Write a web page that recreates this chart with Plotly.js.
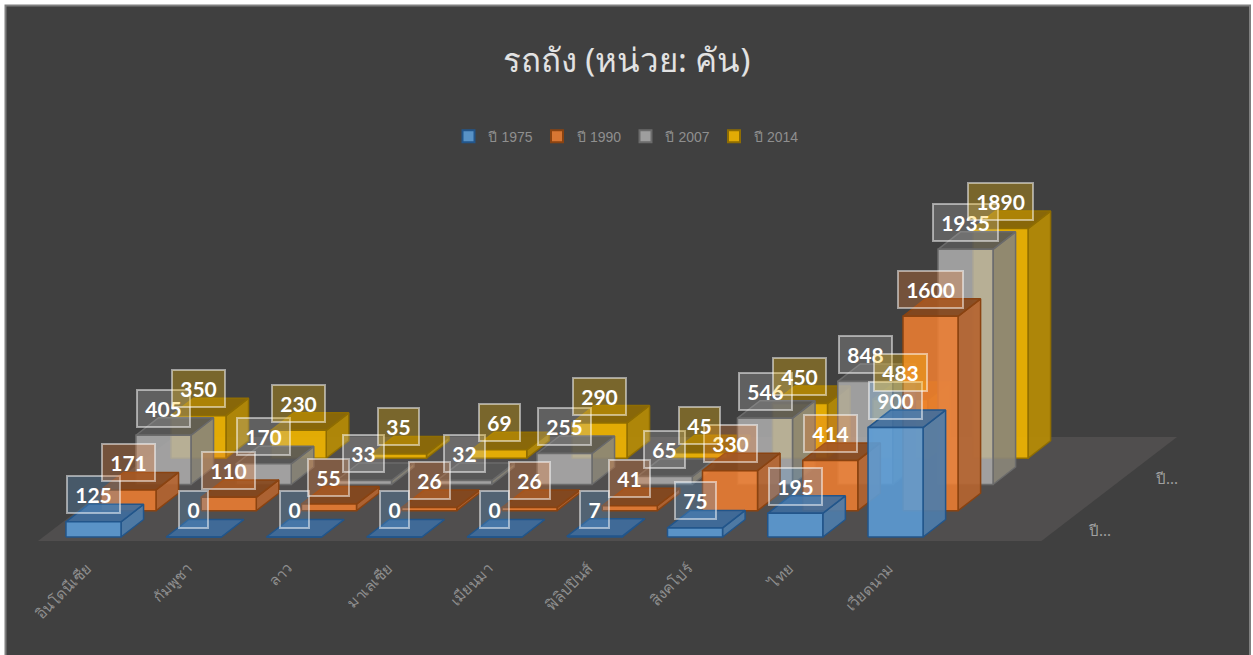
<!DOCTYPE html>
<html><head><meta charset="utf-8">
<script src="https://cdn.plot.ly/plotly-3.0.1.min.js"></script>
<style>html,body{margin:0;padding:0;background:#fff}#chart{position:absolute;left:0;top:0;width:1253px;height:655px}</style>
</head><body><div id="chart"></div>
<script>
const categories = ['อินโดนีเซีย','กัมพูชา','ลาว','มาเลเซีย','เมียนมา','ฟิลิปปินส์','สิงคโปร์','ไทย','เวียดนาม'];
const years = ['ปี 1975','ปี 1990','ปี 2007','ปี 2014'];
const v1975 = [125,0,0,0,0,7,75,195,900];
const v1990 = [171,110,55,26,26,41,330,414,1600];
const v2007 = [405,170,33,32,255,65,546,848,1935];
const v2014 = [350,230,35,69,290,45,450,483,1890];
const seriesValues = [v1975,v1990,v2007,v2014];

const front = ['rgba(91,155,213,.9)','rgba(237,125,49,.88)','rgba(175,175,175,.85)','rgba(240,180,0,.92)'];
const side  = ['rgba(78,125,170,.92)','rgba(180,100,48,.92)','rgba(138,134,120,.92)','rgba(180,138,6,.95)'];
const top_  = ['rgba(62,110,160,.9)','rgba(135,72,28,.92)','rgba(88,88,88,.92)','rgba(140,105,6,.95)'];
const edge  = ['#22558a','#8a4311','#6b6b6b','#8f6d02'];
const labelBg = ['rgba(91,155,213,.28)','rgba(237,125,49,.3)','rgba(190,190,190,.25)','rgba(255,192,0,.3)'];

// oblique projection expressed in axis units
const W=0.549, DX=0.225, DY=144, SX=0.349, SY=216;
const traces=[];
const floorX=[-0.279,9.73,11.082,1.074,-0.279], floorY=[-33,-33,823,823,-33];
traces.push({x:floorX,y:floorY,mode:'lines',fill:'toself',fillcolor:'#504e4e',line:{width:0},showlegend:false,hoverinfo:'skip'});

for(let d=3;d>=0;d--){
  const fx=[],fy=[],tx=[],ty=[],sx=[],sy=[];
  seriesValues[d].forEach((v,i)=>{
    const x0=i+d*SX,x1=x0+W,b=d*SY,t=b+v;
    fx.push(x0,x1,x1,x0,x0,null);fy.push(b,b,t,t,b,null);
    tx.push(x0,x1,x1+DX,x0+DX,x0,null);ty.push(t,t,t+DY,t+DY,t,null);
    sx.push(x1,x1+DX,x1+DX,x1,x1,null);sy.push(b,b+DY,t+DY,t,b,null);
  });
  const common={mode:'lines',line:{color:edge[d],width:1.5},showlegend:false,hoverinfo:'skip'};
  traces.push({...common,x:sx,y:sy,fill:'toself',fillcolor:side[d]});
  traces.push({...common,x:tx,y:ty,fill:'toself',fillcolor:top_[d]});
  traces.push({...common,x:fx,y:fy,fill:'toself',fillcolor:front[d]});
}
years.forEach((name,d)=>traces.push({x:[null],y:[null],name,mode:'markers',
  marker:{symbol:'square',size:12,color:front[d],line:{color:edge[d],width:2}},legendrank:d+1,hoverinfo:'skip'}));

const annotations=[];
seriesValues.forEach((vals,d)=>vals.forEach((v,i)=>{
  annotations.push({x:i+d*SX+W/2,y:d*SY+v,xref:'x',yref:'y',yshift:27,showarrow:false,text:String(v),
    font:{family:'Lato, "Open Sans", sans-serif',size:21,color:'#fff',weight:700},width:String(v).length*12+5,
    bgcolor:labelBg[d],bordercolor:'rgba(255,255,255,.5)',borderwidth:2,borderpad:5,xanchor:'center',yanchor:'middle',align:'center'});
}));
annotations.push({x:10.31,y:60,xref:'x',yref:'y',text:'ปี...',showarrow:false,font:{size:15,color:'#a0a0a0',family:'"Noto Sans", sans-serif'}});
annotations.push({x:10.98,y:488,xref:'x',yref:'y',text:'ปี...',showarrow:false,font:{size:15,color:'#a0a0a0',family:'"Noto Sans", sans-serif'}});

const layout={
  width:1253,height:655,paper_bgcolor:'#ffffff',plot_bgcolor:'rgba(0,0,0,0)',
  margin:{l:38,r:76,t:170,b:114},
  title:{text:'รถถัง (หน่วย: คัน)',x:0.5,xanchor:'center',y:0.908,yanchor:'middle',font:{size:33,color:'#e2e2e2',family:'"Noto Sans", "DejaVu Sans", sans-serif'}},
  legend:{orientation:'h',x:0.5158,xanchor:'center',y:1.09,yanchor:'middle',yref:'paper',bgcolor:'rgba(0,0,0,0)',
    font:{size:14,color:'#8f8f8f',family:'"Liberation Sans", Arial, sans-serif'},entrywidth:43.5,entrywidthmode:'pixels'},
  xaxis:{range:[-0.279,11.082],tickmode:'array',tickvals:categories.map((c,i)=>i+0.21),ticktext:categories,tickangle:-45,
    showgrid:false,zeroline:false,showline:false,ticks:'outside',ticklen:12,tickcolor:'rgba(0,0,0,0)',tickfont:{size:15,color:'#8f8f8f',family:'"Noto Sans", sans-serif'},fixedrange:true},
  yaxis:{range:[-33,3020],visible:false,fixedrange:true},
  annotations,
  shapes:[{type:'rect',xref:'paper',yref:'paper',layer:'below',x0:(5.5-38)/1139,x1:(1250-38)/1139,y0:(541-658)/371,y1:(541-5.5)/371,line:{width:2,color:'#7f7f7f'},fillcolor:'#404040'}]
};
Plotly.newPlot('chart',traces,layout,{displayModeBar:false,staticPlot:true});
</script></body></html>
